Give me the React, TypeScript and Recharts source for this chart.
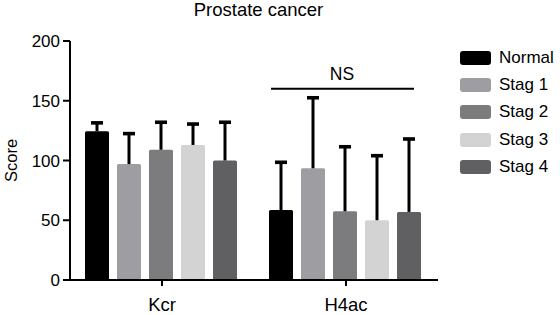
import React from 'react';
import { BarChart, Bar, XAxis, YAxis, Legend, ReferenceLine } from 'recharts';

const categories = ['Kcr', 'H4ac'];
const seriesNames = ['Normal', 'Stag 1', 'Stag 2', 'Stag 3', 'Stag 4'];
const normal = [124.5, 58.5];
const stag1 = [97, 93.5];
const stag2 = [109, 57.5];
const stag3 = [113, 50];
const stag4 = [100, 57];
const normalErr = [7, 40];
const stag1Err = [25.5, 59];
const stag2Err = [23, 54];
const stag3Err = [17.5, 54];
const stag4Err = [32, 61];
const yTicks = [0, 50, 100, 150, 200];
const nsLabel = 'NS';
const nsCategory = 'H4ac';
const nsY = 160;

const seriesValues = [normal, stag1, stag2, stag3, stag4];
const seriesErrs = [normalErr, stag1Err, stag2Err, stag3Err, stag4Err];
const colors = ['#000000', '#9e9ea2', '#7c7c7e', '#d3d3d3', '#606062'];

const data = categories.map((c, i) => {
  const row: any = { name: c };
  seriesNames.forEach((s, k) => {
    row['v' + k] = seriesValues[k][i];
    row['e' + k] = seriesErrs[k][i];
  });
  return row;
});

const FONT = '"Liberation Sans", Arial, Helvetica, sans-serif';

const makeShape = (k: number) => (props: any) => {
  const { x, y, width, height, fill, payload } = props;
  const v = payload['v' + k];
  const err = payload['e' + k];
  const ppu = v ? height / v : 0;
  const cx = x + width / 2;
  const yTop = y - err * ppu;
  return (
    <g>
      <rect x={x} y={y} width={width} height={height} fill={fill} rx={1.5} ry={1.5} />
      <line x1={cx} y1={y} x2={cx} y2={yTop} stroke="#000" strokeWidth={3} />
      <line x1={cx - 6} y1={yTop} x2={cx + 6} y2={yTop} stroke="#000" strokeWidth={3.6} />
    </g>
  );
};

const NsShape = (props: any) => {
  const { x1, y1, x2, y2 } = props;
  if (x1 == null) return null;
  return <line x1={x1 - 75} y1={y1} x2={x2 + 68} y2={y2} stroke="#000" strokeWidth={2} />;
};

const LegendContent = (props: any) => {
  const { payload } = props;
  return (
    <div style={{ fontFamily: FONT }}>
      {(payload || []).map((p: any, i: number) => (
        <div key={i} style={{ height: 27.3, display: 'flex', alignItems: 'center' }}>
          <div
            style={{
              width: 31,
              height: 14,
              background: p.color,
              borderRadius: 3,
              marginRight: 8,
            }}
          />
          <span style={{ fontSize: 17, color: '#000', whiteSpace: 'nowrap' }}>{p.value}</span>
        </div>
      ))}
    </div>
  );
};

export default function App() {
  return (
    <div style={{ position: 'absolute', left: 0, top: 0, width: 560, height: 315, fontFamily: FONT, background: '#fff' }}>
      <div
        style={{
          position: 'absolute',
          left: 0,
          top: 0,
          width: 517,
          textAlign: 'center',
          fontSize: 18.5,
          color: '#000',
          lineHeight: '20px',
        }}
      >
        Prostate cancer
      </div>
      <BarChart
        width={560}
        height={315}
        data={data}
        margin={{ top: 41, right: 22, bottom: 5, left: 0 }}
        barCategoryGap={15}
        barGap={8}
      >
        <XAxis
          dataKey="name"
          axisLine={{ stroke: '#000', strokeWidth: 2 }}
          tickLine={{ stroke: '#000', strokeWidth: 2 }}
          tickSize={6}
          tickMargin={12}
          height={30}
          tick={{ fontSize: 18.5, fill: '#000' }}
        />
        <YAxis
          domain={[0, 200]}
          ticks={yTicks}
          width={70}
          axisLine={{ stroke: '#000', strokeWidth: 2 }}
          tickLine={{ stroke: '#000', strokeWidth: 2 }}
          tickSize={7}
          tickMargin={3}
          tick={{ fontSize: 17, fill: '#000' }}
          label={{
            value: 'Score',
            angle: -90,
            position: 'insideLeft',
            offset: 11,
            style: { textAnchor: 'middle', fontSize: 16.5, fill: '#000' },
          }}
        />
        <Legend
          layout="vertical"
          align="right"
          verticalAlign="top"
          content={<LegendContent />}
          wrapperStyle={{ width: 100, top: 44, left: 460 }}
        />
        {seriesNames.map((s, k) => (
          <Bar
            key={s}
            dataKey={'v' + k}
            name={s}
            fill={colors[k]}
            shape={makeShape(k)}
            isAnimationActive={false}
          />
        ))}
        <ReferenceLine
          segment={[
            { x: nsCategory, y: nsY },
            { x: nsCategory, y: nsY },
          ]}
          shape={<NsShape />}
          ifOverflow="visible"
          label={{ value: nsLabel, position: 'top', offset: 9, fontSize: 17.5, fill: '#000', dx: -4 }}
        />
      </BarChart>
    </div>
  );
}
